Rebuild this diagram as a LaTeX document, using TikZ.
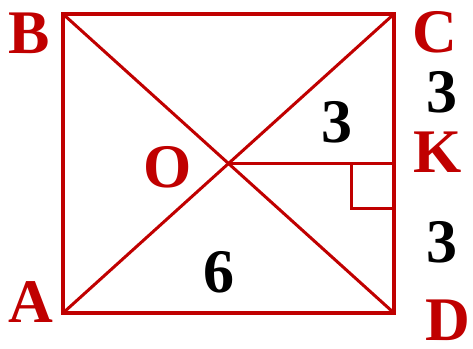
\documentclass[tikz,border=0pt]{standalone}
\usepackage{fontspec}
\setmainfont{Liberation Serif}
\usetikzlibrary{positioning}
\definecolor{geored}{RGB}{192,0,0}

\begin{document}
\begin{tikzpicture}[x=1pt,y=1pt,
  side/.style={draw=geored,line width=4.2pt},
  diag/.style={draw=geored,line width=3pt},
  pt/.style={text=geored,font=\bfseries\fontsize{62}{62}\selectfont,inner sep=0pt},
  num/.style={text=black,font=\bfseries\fontsize{62}{62}\selectfont,inner sep=0pt}]
\useasboundingbox (0,0) rectangle (473,-348);
\coordinate (A) at (63,-313);
\coordinate (B) at (63,-14);
\coordinate (C) at (394,-14);
\coordinate (D) at (394,-313);
\coordinate (O) at (228.5,-163.5);
\coordinate (K) at (394,-163.5);
\draw[side] (A)--(B)--(C)--(D)--cycle;
\draw[diag] (A)--(C);
\draw[diag] (B)--(D);
\draw[diag] (O)--(K);
\draw[diag] ([xshift=-43pt]K) |- ([yshift=-45pt]K);
\node[pt] (labB) at (29,-33) {B};
\node[pt] (labC) at (435,-32) {C};
\node[pt] (labK) at (438,-152) {K};
\node[pt] (labD) at (448,-320) {D};
\node[pt] (labA) at (31,-302) {A};
\node[pt] (labO) at (168,-167) {O};
\node[num] (ck) at (442,-92) {3};
\node[num] (kd) at (442,-242) {3};
\node[num] (ok) at (337,-122) {3};
\node[num] (ad) at (219,-272) {6};
\end{tikzpicture}
\end{document}
